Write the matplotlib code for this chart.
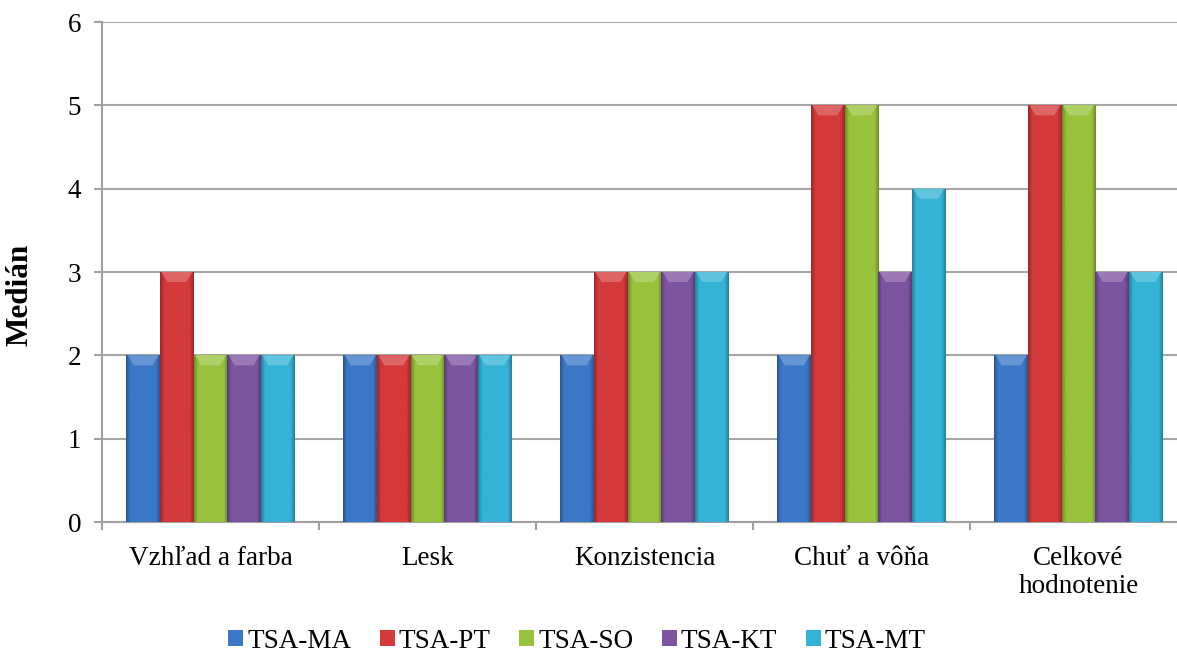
import numpy as np
import matplotlib
matplotlib.use("Agg")
import matplotlib.pyplot as plt
from matplotlib.colors import to_rgb
from matplotlib.patches import Polygon

plt.rcParams['font.family'] = ['Liberation Serif', 'DejaVu Serif']

categories = ["Vzhľad a farba", "Lesk", "Konzistencia", "Chuť a vôňa", "Celkové\nhodnotenie"]
series_names = ["TSA-MA", "TSA-PT", "TSA-SO", "TSA-KT", "TSA-MT"]
ma = [2, 2, 2, 2, 2]
pt = [3, 2, 3, 5, 5]
so = [2, 2, 3, 5, 5]
kt = [2, 2, 3, 3, 3]
mt = [2, 2, 3, 4, 3]
colors = ["#3c78c8", "#d4393b", "#98c23c", "#7c55a0", "#33b3d6"]

series = [ma, pt, so, kt, mt]
FS = 19.5


def shade(rgb, f):
    rgb = np.asarray(rgb)
    if f < 1:
        return rgb * f
    return rgb + (1 - rgb) * (f - 1)


def bevel_bar(ax, bar, color):
    """Paint an Excel-like bevel onto a bar patch."""
    x, w, h = bar.get_x(), bar.get_width(), bar.get_height()
    base = np.array(to_rgb(color))
    t = np.linspace(0, 1, 64)
    edge = np.minimum(t, 1 - t)
    prof = 0.72 + 0.28 * np.clip(edge / 0.12, 0, 1)
    grad = np.clip(base[None, :] * prof[:, None], 0, 1)[None, :, :]
    im = ax.imshow(grad, extent=(x, x + w, 0, h), aspect='auto',
                   interpolation='bilinear', zorder=3)
    im.set_clip_path(bar)
    # lighter top cap
    dx = w * 0.22
    dy = 0.12
    cap = Polygon([(x + w * 0.04, h), (x + w * 0.96, h), (x + w - dx, h - dy), (x + dx, h - dy)],
                  closed=True, facecolor=shade(base, 1.22), edgecolor='none', zorder=4)
    ax.add_patch(cap)


fig = plt.figure(figsize=(11.77, 6.57), dpi=100)
ax = fig.add_axes([102 / 1177, 1 - 522 / 657, 1085 / 1177, 500 / 657])

x = np.arange(len(categories))
bw = 0.155
for i, (vals, name, c) in enumerate(zip(series, series_names, colors)):
    bars = ax.bar(x + (i - 2) * bw, vals, width=bw, color=c, label=name,
                  zorder=2, linewidth=0)
    for b in bars:
        bevel_bar(ax, b, c)

ax.set_xlim(-0.5, len(categories) - 0.5)
ax.set_ylim(0, 6)
ax.set_yticks(range(7))
ax.yaxis.grid(True, color='#a6a6a6', linewidth=1.5, zorder=0)
ax.set_axisbelow(True)

for s in ['top', 'right']:
    ax.spines[s].set_visible(False)
for s in ['left', 'bottom']:
    ax.spines[s].set_color('#a0a0a0')
    ax.spines[s].set_linewidth(1.5)

ax.set_xticks(x)
ax.set_xticklabels(categories, fontsize=FS)
ax.set_xticks(np.arange(-0.5, len(categories)), minor=True)
ax.tick_params(axis='x', which='major', length=0, pad=17)
ax.tick_params(axis='x', which='minor', length=6, width=1.5, color='#a0a0a0', direction='out')
ax.tick_params(axis='y', length=6, width=1.5, color='#a0a0a0', direction='out',
               labelsize=FS, pad=9)

ax.set_ylabel("Medián", fontsize=22.5, fontweight='bold')
ax.yaxis.set_label_coords(-0.062, 0.455)

handles, labels = ax.get_legend_handles_labels()
fig.legend(handles, labels, loc='center', bbox_to_anchor=(577 / 1177, 1 - 641 / 657),
           ncol=5, frameon=False, fontsize=FS, handlelength=0.55, handleheight=0.55,
           handletextpad=0.15, columnspacing=1.05)

fig.savefig("out.png", dpi=100)
